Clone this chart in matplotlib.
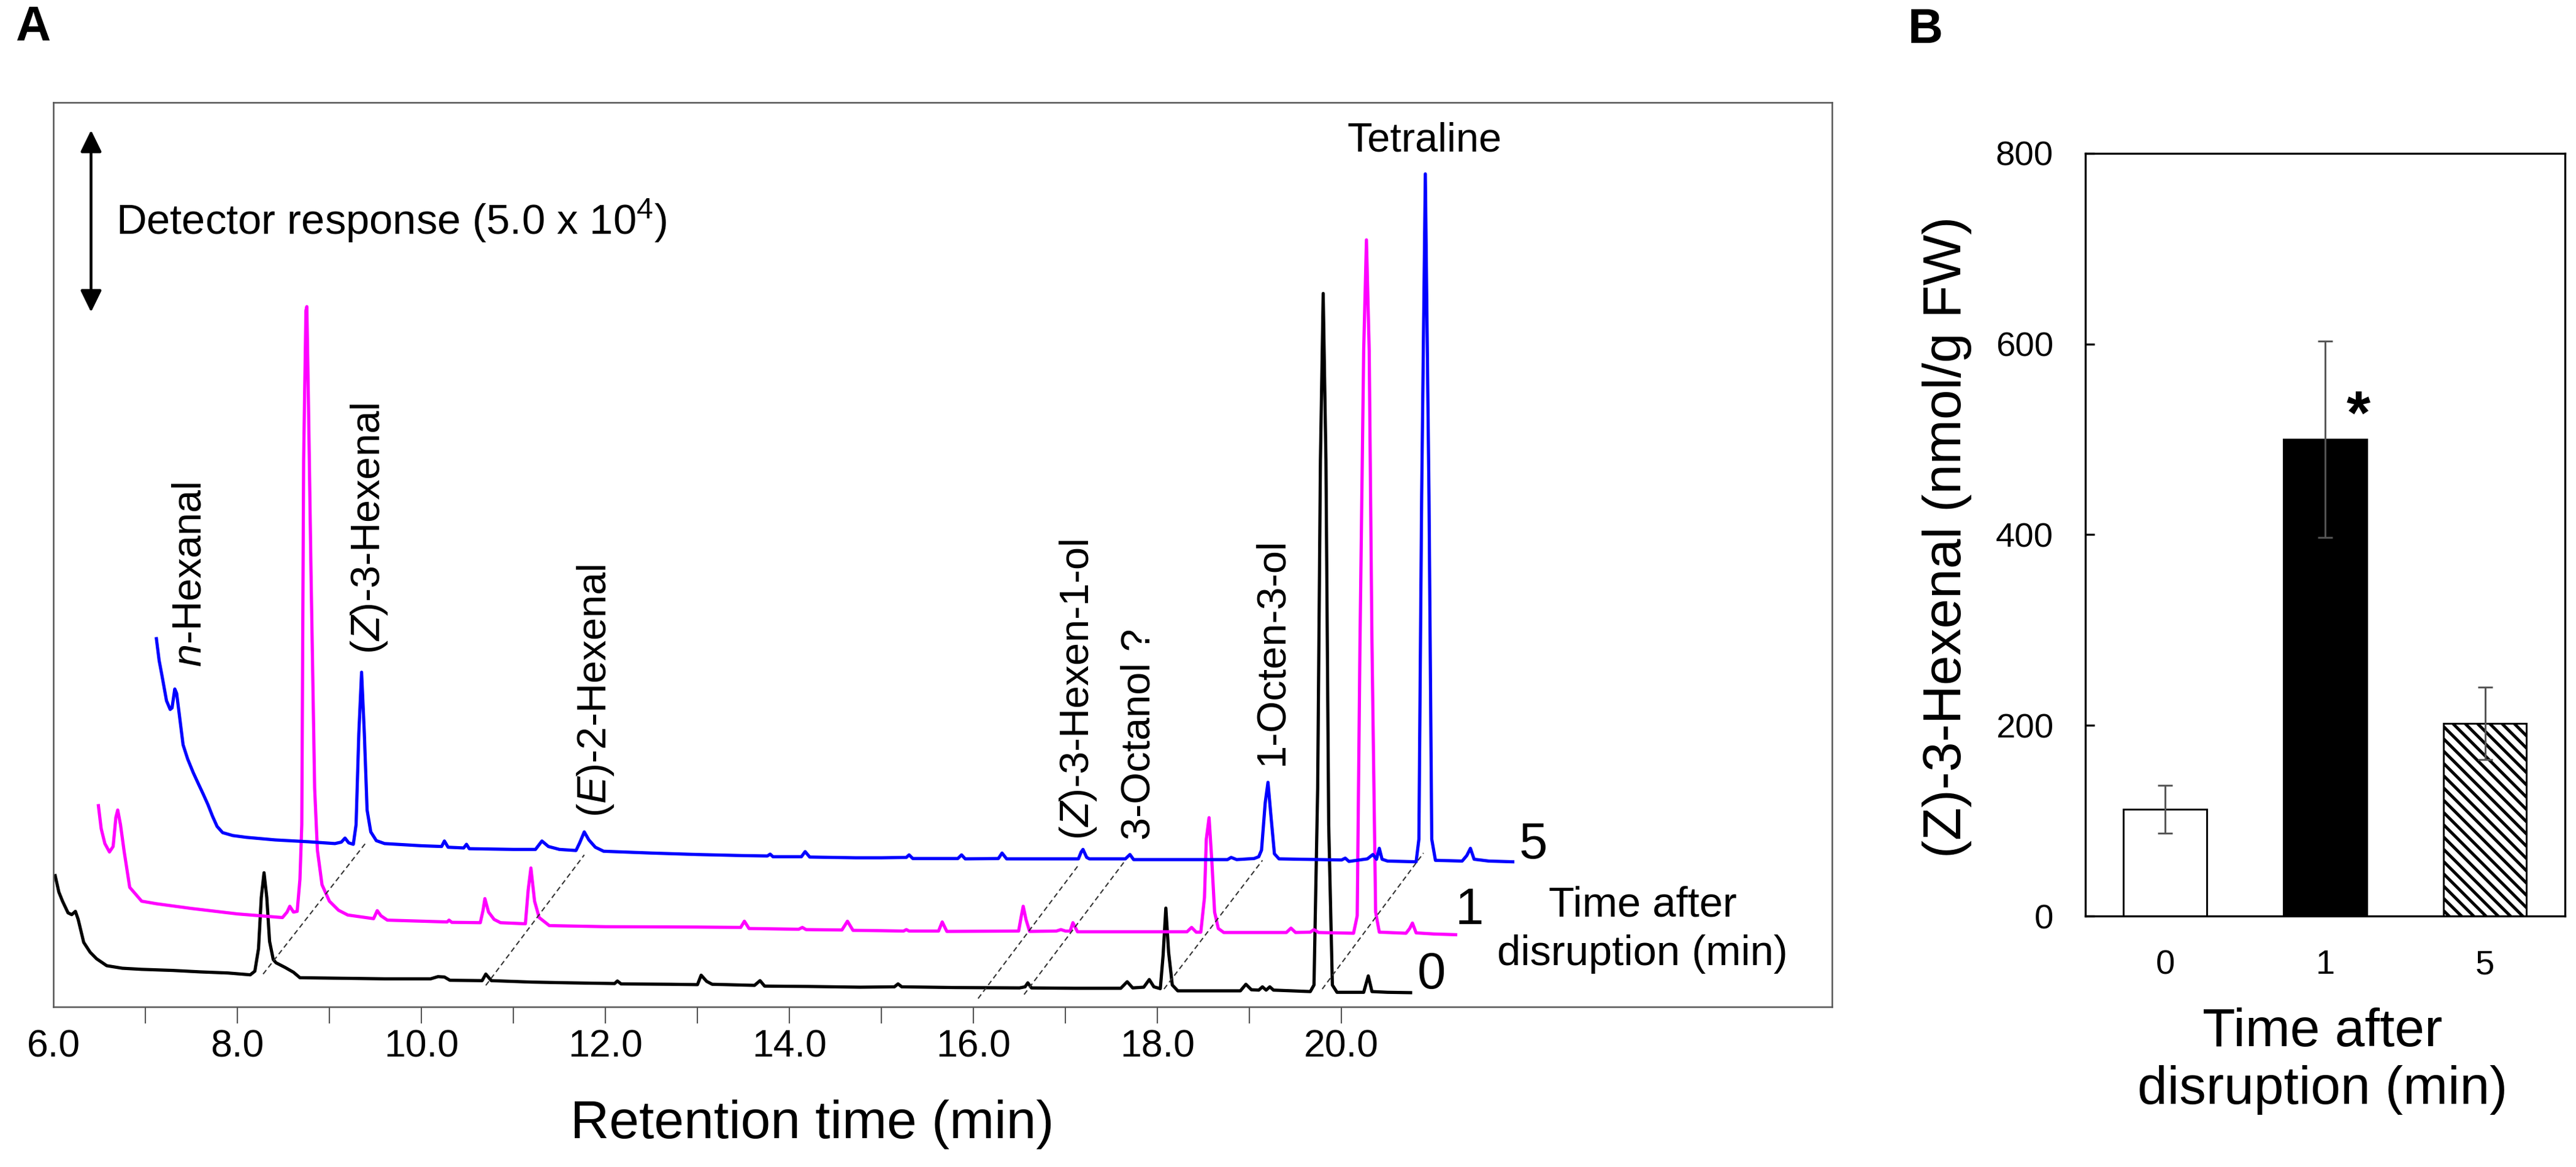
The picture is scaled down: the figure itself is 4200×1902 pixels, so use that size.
import matplotlib.pyplot as plt

plt.rcParams['font.family'] = ['Liberation Sans', 'DejaVu Sans']
plt.rcParams['mathtext.fontset'] = 'custom'
plt.rcParams['mathtext.rm'] = 'Liberation Sans'
plt.rcParams['mathtext.it'] = 'Liberation Sans:italic'
plt.rcParams['hatch.linewidth'] = 1.2

# ---- panel A: GC traces, (retention time min, response x1e4) as plotted (stacked / shifted)
trace_0 = [(6.02, 3.60), (6.06, 3.15), (6.10, 2.90), (6.16, 2.58), (6.20, 2.53), (6.24, 2.62),
           (6.27, 2.40), (6.33, 1.77), (6.40, 1.50), (6.47, 1.32), (6.58, 1.13), (6.75, 1.06),
           (6.96, 1.03), (7.3, 1.00), (7.6, 0.96), (7.9, 0.93), (8.14, 0.88), (8.19, 0.98),
           (8.23, 1.6), (8.26, 3.0), (8.29, 3.68), (8.32, 3.0), (8.35, 1.8), (8.39, 1.30),
           (8.42, 1.21), (8.52, 1.08), (8.61, 0.95), (8.68, 0.80), (9.0, 0.79), (9.6, 0.77),
           (10.1, 0.77), (10.18, 0.83), (10.25, 0.82), (10.31, 0.73), (10.66, 0.72), (10.70, 0.90),
           (10.76, 0.72), (11.2, 0.68), (11.6, 0.66), (12.10, 0.64), (12.13, 0.71), (12.17, 0.63),
           (12.7, 0.62), (13.0, 0.61), (13.04, 0.87), (13.10, 0.70), (13.16, 0.62), (13.62, 0.59),
           (13.68, 0.72), (13.73, 0.57), (14.2, 0.56), (14.77, 0.54), (15.14, 0.55), (15.18, 0.63),
           (15.22, 0.55), (15.8, 0.53), (16.5, 0.52), (16.56, 0.55), (16.59, 0.66), (16.63, 0.52),
           (17.1, 0.51), (17.6, 0.51), (17.67, 0.69), (17.73, 0.52), (17.85, 0.54), (17.91, 0.75),
           (17.96, 0.55), (18.03, 0.50), (18.06, 1.4), (18.09, 2.71), (18.12, 1.5), (18.16, 0.6),
           (18.22, 0.44), (18.9, 0.44), (18.96, 0.62), (19.02, 0.47), (19.10, 0.46), (19.14, 0.55),
           (19.18, 0.46), (19.22, 0.55), (19.26, 0.46), (19.66, 0.42), (19.70, 0.6), (19.74, 6.0),
           (19.77, 15.0), (19.80, 19.57), (19.83, 15.0), (19.86, 5.0), (19.90, 0.6), (19.95, 0.40),
           (20.24, 0.40), (20.29, 0.85), (20.33, 0.42), (20.50, 0.40), (20.75, 0.39)]

trace_1 = [(6.49, 5.52), (6.52, 4.89), (6.56, 4.48), (6.61, 4.25), (6.65, 4.40), (6.68, 5.2),
           (6.70, 5.40), (6.73, 5.0), (6.77, 4.26), (6.83, 3.28), (6.96, 2.90), (7.12, 2.83),
           (7.5, 2.70), (8.0, 2.55), (8.49, 2.45), (8.54, 2.60), (8.57, 2.76), (8.61, 2.60),
           (8.65, 2.62), (8.68, 3.5), (8.70, 5.0), (8.72, 15.0), (8.745, 19.1), (8.755, 19.21),
           (8.77, 17.0), (8.80, 12.0), (8.84, 6.0), (8.87, 4.3), (8.92, 3.35), (9.00, 2.90),
           (9.10, 2.65), (9.20, 2.52), (9.48, 2.42),
           (9.52, 2.64), (9.56, 2.50), (9.63, 2.38), (10.28, 2.33), (10.30, 2.38), (10.33, 2.32),
           (10.64, 2.31), (10.67, 2.65), (10.69, 2.97), (10.73, 2.60), (10.79, 2.40), (10.86, 2.31),
           (11.13, 2.28), (11.16, 3.2), (11.19, 3.81), (11.23, 2.9), (11.28, 2.45), (11.39, 2.23),
           (12.0, 2.20), (13.0, 2.19), (13.47, 2.18), (13.51, 2.35), (13.56, 2.15), (14.1, 2.13),
           (14.14, 2.18), (14.18, 2.12), (14.57, 2.11), (14.63, 2.35), (14.69, 2.10), (15.0, 2.09),
           (15.24, 2.08), (15.27, 2.12), (15.30, 2.08), (15.62, 2.08), (15.66, 2.33), (15.71, 2.07),
           (16.49, 2.08), (16.52, 2.5), (16.54, 2.76), (16.57, 2.4), (16.61, 2.07), (16.90, 2.08),
           (16.95, 2.12), (17.0, 2.08), (17.05, 2.08), (17.08, 2.31), (17.13, 2.06), (17.5, 2.06),
           (18.32, 2.06), (18.37, 2.18), (18.42, 2.05), (18.47, 2.05), (18.51, 3.0), (18.53, 4.6),
           (18.56, 5.19), (18.59, 4.0), (18.62, 2.6), (18.66, 2.15), (18.72, 2.04), (19.40, 2.04),
           (19.45, 2.16), (19.50, 2.04), (19.66, 2.05), (19.70, 2.12), (19.75, 2.04), (20.13, 2.02),
           (20.17, 2.5), (20.20, 10.0), (20.24, 18.0), (20.27, 21.04), (20.30, 18.0), (20.33, 10.0),
           (20.37, 2.6), (20.41, 2.05), (20.70, 2.02), (20.74, 2.15), (20.77, 2.30), (20.81, 2.03),
           (21.0, 2.0), (21.24, 1.98)]

trace_5 = [(7.12, 10.10), (7.15, 9.50), (7.18, 9.10), (7.23, 8.40), (7.27, 8.16), (7.29, 8.20),
           (7.32, 8.72), (7.34, 8.60), (7.37, 8.00), (7.41, 7.19), (7.46, 6.80), (7.52, 6.43),
           (7.58, 6.10), (7.63, 5.83), (7.68, 5.55), (7.73, 5.23), (7.78, 4.95), (7.84, 4.78),
           (7.95, 4.70), (8.1, 4.65), (8.41, 4.58), (8.77, 4.53), (9.06, 4.48), (9.13, 4.52),
           (9.17, 4.63), (9.21, 4.50), (9.26, 4.46), (9.29, 5.0), (9.32, 7.5), (9.35, 9.18),
           (9.38, 7.5), (9.41, 5.4), (9.45, 4.80), (9.51, 4.56), (9.60, 4.48), (10.0, 4.42),
           (10.22, 4.40), (10.25, 4.55), (10.29, 4.38), (10.46, 4.36), (10.49, 4.46), (10.52, 4.34),
           (11.0, 4.32), (11.24, 4.32), (11.31, 4.55), (11.38, 4.40), (11.50, 4.32), (11.68, 4.29),
           (11.72, 4.50), (11.77, 4.80), (11.82, 4.58), (11.89, 4.38), (11.98, 4.27), (12.5, 4.22),
           (13.0, 4.18), (13.5, 4.15), (13.76, 4.14), (13.79, 4.19), (13.82, 4.12), (14.13, 4.12),
           (14.17, 4.26), (14.22, 4.11), (14.72, 4.09), (15.0, 4.09), (15.27, 4.10), (15.30, 4.17),
           (15.34, 4.07), (15.83, 4.07), (15.87, 4.17), (15.91, 4.06), (16.27, 4.07), (16.31, 4.22),
           (16.36, 4.06), (16.75, 4.06), (17.14, 4.06), (17.17, 4.25), (17.19, 4.32), (17.23, 4.10),
           (17.26, 4.06), (17.65, 4.06), (17.70, 4.18), (17.74, 4.04), (18.3, 4.04), (18.76, 4.04),
           (18.80, 4.10), (18.86, 4.04), (19.05, 4.07), (19.10, 4.12), (19.13, 4.30), (19.17, 5.6),
           (19.20, 6.16), (19.23, 5.3), (19.27, 4.2), (19.32, 4.06), (20.0, 4.03), (20.04, 4.08),
           (20.08, 3.99), (20.28, 4.06), (20.34, 4.18), (20.38, 4.05), (20.41, 4.35), (20.44, 4.05),
           (20.50, 4.0), (20.81, 3.98), (20.84, 4.6), (20.87, 14.0), (20.91, 22.85), (20.95, 14.0),
           (20.98, 4.6), (21.02, 4.02), (21.31, 4.0), (21.36, 4.15), (21.40, 4.35), (21.44, 4.05),
           (21.60, 4.0), (21.86, 3.98)]

trace_names = ['0', '1', '5']
trace_colors = ['black', '#ff00ff', '#0000ff']
trace_name_pos = [(20.98, 0.87), (21.39, 2.64), (22.08, 4.44)]

peak_names = ['$n$-Hexanal', '($Z$)-3-Hexenal', '($E$)-2-Hexenal', '($Z$)-3-Hexen-1-ol',
              '3-Octanol ?', '1-Octen-3-ol']
peak_label_x = [7.49, 9.43, 11.89, 17.14, 17.80, 19.25]
peak_label_y = [9.33, 9.68, 5.20, 4.58, 4.58, 6.63]

# dashed guides linking the same peak in trace 0 and trace 5
link_start = [(8.28, 0.90), (10.70, 0.59), (16.05, 0.23), (16.55, 0.34), (18.07, 0.49), (19.79, 0.49)]
link_end = [(9.39, 4.48), (11.77, 4.17), (17.15, 3.92), (17.65, 4.02), (19.14, 4.02), (20.89, 4.22)]

# ---- panel B
times = ['0', '1', '5']
hexenal = [112, 500, 202]
hexenal_err = [25, 103, 38]

fig = plt.figure(figsize=(14, 6.34), dpi=300)

ax = fig.add_axes([0.0207, 0.1372, 0.6905, 0.775])
for tr, col in zip([trace_0, trace_1, trace_5], trace_colors):
    t = [p[0] for p in tr]
    r = [p[1] for p in tr]
    ax.plot(t, r, color=col, lw=1.25, solid_joinstyle='round')

for (x0, y0), (x1, y1) in zip(link_start, link_end):
    ax.plot([x0, x1], [y0, y1], color='#333333', lw=0.5, ls=(0, (4, 2.6)))

for name, (x, y) in zip(trace_names, trace_name_pos):
    ax.text(x, y, name, fontsize=20, ha='center', va='center')

for name, x, y in zip(peak_names, peak_label_x, peak_label_y):
    ax.text(x, y, name, fontsize=16, rotation=90, ha='center', va='bottom')

ax.text(20.90, 23.75, 'Tetraline', fontsize=16, ha='center', va='center')
ax.text(23.27, 2.12, 'Time after\ndisruption (min)', fontsize=16.5, ha='center', va='center',
        multialignment='center', linespacing=1.3)

ax.annotate('', xy=(6.41, 24.05), xytext=(6.41, 19.06),
            arrowprops=dict(arrowstyle='<|-|>,head_length=0.45,head_width=0.22',
                            mutation_scale=16, lw=1.1, color='black', shrinkA=0, shrinkB=0))
ax.text(6.68, 21.57, 'Detector response (5.0 x 10$^4$)', fontsize=16.5, ha='left', va='center')

ax.set_xlim(6.0, 25.33)
ax.set_ylim(0, 24.81)
ax.set_yticks([])
ax.set_xticks([6, 8, 10, 12, 14, 16, 18, 20])
ax.set_xticklabels(['6.0', '8.0', '10.0', '12.0', '14.0', '16.0', '18.0', '20.0'], fontsize=15)
ax.set_xticks(range(7, 21), minor=True)
ax.xaxis.remove_overlapping_locs = False
ax.tick_params(axis='x', which='major', length=0, pad=8.5)
ax.tick_params(axis='x', which='minor', length=6.5, width=0.5, color='#555555')
for sp in ax.spines.values():
    sp.set_color('#555555')
    sp.set_linewidth(0.6)
ax.text(0.4265, -0.130, 'Retention time (min)', transform=ax.transAxes, fontsize=21,
        ha='center', va='center')

# panel B
ax2 = fig.add_axes([0.8095, 0.215, 0.1862, 0.6536])
bars = ax2.bar(range(3), hexenal, width=0.52, color=['white', 'black', 'white'],
               edgecolor='black', linewidth=0.7, zorder=2)
bars[2].set_hatch('\\\\\\\\\\')
ax2.errorbar(range(3), hexenal, yerr=hexenal_err, fmt='none', ecolor='#555555',
             elinewidth=0.7, capsize=2.8, capthick=0.7, zorder=3)
ax2.text(1.21, 506, '*', fontsize=24, fontweight='bold', ha='center', va='baseline')
ax2.set_xlim(-0.5, 2.5)
ax2.set_ylim(0, 800)
ax2.set_yticks([0, 200, 400, 600, 800])
ax2.set_xticks(range(3))
ax2.set_xticklabels(times)
ax2.tick_params(axis='y', direction='in', length=3.6, width=0.8, labelsize=13.5, pad=12.5)
ax2.tick_params(axis='x', length=0, labelsize=13.5, pad=13)
for sp in ax2.spines.values():
    sp.set_linewidth(0.8)
ax2.text(-0.288, 0.497, '(Z)-3-Hexenal (nmol/g FW)', transform=ax2.transAxes, fontsize=21,
         rotation=90, ha='center', va='center')
ax2.text(0.495, -0.19, 'Time after\ndisruption (min)', transform=ax2.transAxes, fontsize=21,
         ha='center', va='center', linespacing=1.2)

fig.text(54 / 4200, 1 - 45 / 1902, 'A', fontsize=19, fontweight='bold', ha='center', va='center')
fig.text(3139 / 4200, 1 - 49 / 1902, 'B', fontsize=19, fontweight='bold', ha='center', va='center')

fig.savefig('out.png', dpi=300)
